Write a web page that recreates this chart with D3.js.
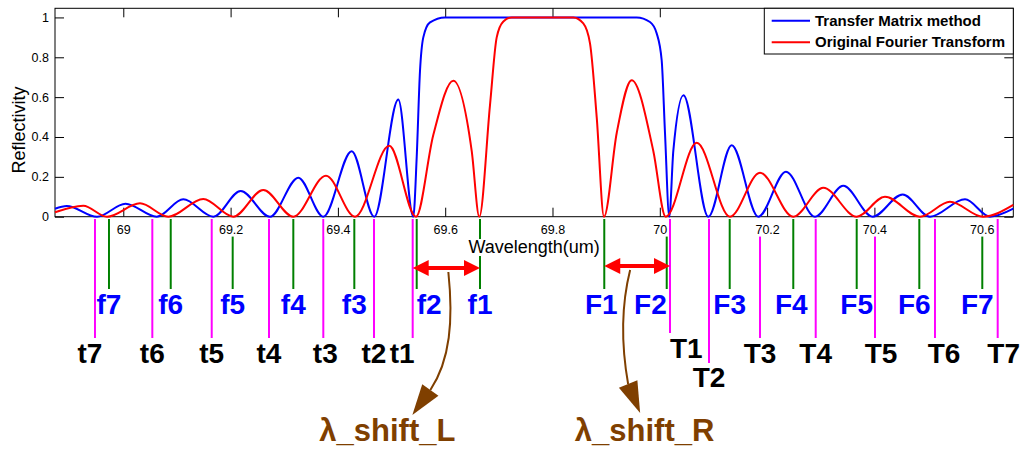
<!DOCTYPE html>
<html><head><meta charset="utf-8">
<script src="https://cdn.jsdelivr.net/npm/d3@7"></script>
<style>body{margin:0;background:#fff;} svg{display:block;font-family:"Liberation Sans",Arial,Helvetica,sans-serif;}</style>
</head><body><svg id="c" width="1023" height="450"></svg>
<script>
// ---- data ----
const seriesNames = ["Transfer Matrix method", "Original Fourier Transform"];
const blueWl = [68.8727,68.8945,68.9510,69.0041,69.0623,69.1118,69.1678,69.2188,69.2734,69.3262,69.3728,69.4257,69.4678,69.5126,69.5405,69.5469,69.5530,69.5592,69.5717,69.5996,69.9569,69.9817,69.9942,70.0035,70.0097,70.0177,70.0252,70.0441,70.0904,70.1340,70.1836,70.2352,70.2893,70.3420,70.3968,70.4527,70.5036,70.5689,70.6154,70.6589];
const blueR  = [0.040,0.054,0.000,0.065,0.000,0.087,0.000,0.129,0.000,0.196,0.000,0.329,0.000,0.588,0.000,0.300,0.730,0.900,0.975,1.000,1.000,0.977,0.920,0.785,0.420,0.000,0.330,0.610,0.000,0.359,0.000,0.226,0.000,0.155,0.000,0.112,0.000,0.087,0.000,0.040];
const redWl = [68.8727,68.9254,68.9696,69.0311,69.0839,69.1491,69.2050,69.2609,69.3169,69.3778,69.4319,69.4958,69.5456,69.5778,69.6151,69.6494,69.6636,69.6835,69.6960,69.7084,69.7240,69.8388,69.8574,69.8699,69.8824,69.8960,69.9197,69.9476,69.9879,70.0110,70.0688,70.1308,70.1868,70.2488,70.3047,70.3670,70.4197,70.4850,70.5409,70.6024,70.6589];
const redR  = [0.022,0.055,0.000,0.067,0.000,0.089,0.000,0.134,0.000,0.206,0.000,0.356,0.000,0.410,0.682,0.330,0.000,0.560,0.900,0.980,1.000,1.000,0.970,0.870,0.500,0.000,0.420,0.685,0.330,0.000,0.371,0.000,0.221,0.000,0.145,0.000,0.100,0.000,0.075,0.000,0.059];
const xTickValues = [69, 69.2, 69.4, 69.6, 69.8, 70, 70.2, 70.4, 70.6];
const yTickValues = [0, 0.2, 0.4, 0.6, 0.8, 1];
const xLabel = "Wavelength(um)";
const yLabel = "Reflectivity";
// annotation markers (wavelengths)
const fNames = ["f7","f6","f5","f4","f3","f2","f1"];
const fWl    = [68.9733,69.0884,69.2039,69.3169,69.4306,69.5469,69.6649];
const FNames = ["F1","F2","F3","F4","F5","F6","F7"];
const FWl    = [69.8965,70.0129,70.1303,70.2488,70.3670,70.4837,70.6011];
const tNames = ["t7","t6","t5","t4","t3","t2","t1"];
const tWl    = [68.9472,69.0541,69.1648,69.2716,69.3728,69.4673,69.5394];
const TNames = ["T1","T2","T3","T4","T5","T6","T7"];
const TWl    = [70.0190,70.0917,70.1868,70.2906,70.4011,70.5129,70.6298];
const shiftNames = ["\u03bb_shift_L", "\u03bb_shift_R"];

// ---- layout ----
const svg = d3.select("#c");
const M = {left: 55, right: 1013.3, top: 8.3, bottom: 216.7};
const x = d3.scaleLinear().domain(d3.extent(blueWl)).range([M.left, M.right]);
const y = d3.scaleLinear().domain([0, 1.0458]).range([M.bottom, M.top]);

svg.append("rect").attr("width",1023).attr("height",450).attr("fill","#fff");

// ---- annotation lines (drawn below tick labels) ----
const ann = svg.append("g");
const green = "#008000", magenta = "#ff00ff";
const markers = [];
fNames.forEach((n,i)=>markers.push({n, w:fWl[i], kind:"f"}));
FNames.forEach((n,i)=>markers.push({n, w:FWl[i], kind:"f"}));
tNames.forEach((n,i)=>markers.push({n, w:tWl[i], kind:"t"}));
TNames.forEach((n,i)=>markers.push({n, w:TWl[i], kind:"t"}));
const lineEnd = {T1: 333, T2: 363};
ann.selectAll("line.m").data(markers).join("line")
  .attr("x1", d=>x(d.w)).attr("x2", d=>x(d.w))
  .attr("y1", 219)
  .attr("y2", d=> lineEnd[d.n] || (d.kind==="f" ? 289 : 338))
  .attr("stroke", d=> d.kind==="f" ? green : magenta)
  .attr("stroke-width", 2);

// ---- axes ----
const gx = svg.append("g").attr("transform",`translate(0,${M.bottom})`)
  .call(d3.axisBottom(x).tickValues(xTickValues).tickFormat(d=>String(d)).tickSize(-9).tickPadding(8));
const gxt = svg.append("g").attr("transform",`translate(0,${M.top})`)
  .call(d3.axisTop(x).tickValues(xTickValues).tickFormat("").tickSize(-9));
const gy = svg.append("g").attr("transform",`translate(${M.left},0)`)
  .call(d3.axisLeft(y).tickValues(yTickValues).tickFormat(d=>String(d)).tickSize(-9).tickPadding(6));
const gyr = svg.append("g").attr("transform",`translate(${M.right},0)`)
  .call(d3.axisRight(y).tickValues(yTickValues).tickFormat("").tickSize(-9));
[gx,gxt,gy,gyr].forEach(g=>{
  g.select(".domain").remove();
  g.attr("font-family",null).attr("font-size",null);
  g.selectAll("text").attr("font-size",12.5).attr("fill","#000");
  g.selectAll("line").attr("stroke","#000");
});
gx.selectAll(".tick").each(function(){
  const t = d3.select(this).select("text");
  const b = t.node().getBBox();
  d3.select(this).insert("rect","text")
    .attr("x", b.x-1.5).attr("y", 1.5).attr("width", b.width+3).attr("height", b.y+b.height-1.5)
    .attr("fill","#fff");
});

// axis labels
const xl = svg.append("g");
const xlt = xl.append("text").attr("x",(M.left+M.right)/2).attr("y",253).attr("text-anchor","middle")
  .attr("font-size",18).text(xLabel);
const xb = xlt.node().getBBox();
xl.insert("rect","text").attr("x",xb.x-1).attr("y",xb.y+2).attr("width",xb.width+2).attr("height",xb.height-3).attr("fill","#fff");
svg.append("text").attr("transform","translate(25,130) rotate(-90)").attr("text-anchor","middle")
  .attr("font-size",18).text(yLabel);

// box
svg.append("rect").attr("x",M.left).attr("y",M.top).attr("width",M.right-M.left).attr("height",M.bottom-M.top)
  .attr("fill","none").attr("stroke","#000").attr("stroke-width",1);

// ---- curves ----
const line = d3.line().x(d=>x(d[0])).y(d=>y(d[1])).curve(d3.curveMonotoneX);
svg.append("path").datum(d3.zip(blueWl, blueR)).attr("d", line)
  .attr("fill","none").attr("stroke","#0000ff").attr("stroke-width",2);
svg.append("path").datum(d3.zip(redWl, redR)).attr("d", line)
  .attr("fill","none").attr("stroke","#ff0000").attr("stroke-width",2);

// ---- legend ----
const lg = svg.append("g");
lg.append("rect").attr("x",764.3).attr("y",M.top).attr("width",M.right-764.3).attr("height",45.7)
  .attr("fill","#fff").attr("stroke","#000");
[["#0000ff",20.7],["#ff0000",42.3]].forEach(([c,yy],i)=>{
  lg.append("line").attr("x1",771.7).attr("x2",810).attr("y1",yy).attr("y2",yy).attr("stroke",c).attr("stroke-width",2);
  lg.append("text").attr("x",815).attr("y",yy+5).attr("font-size",15).attr("font-weight","bold").text(seriesNames[i]);
});

// ---- marker labels ----
const anchorOf = {f2:"start", F2:"end", t1:"end", T1:"start"};
const dxOf = {F1:-3, F6:-5, F7:-5, t7:-5, t1:2, T5:6, T6:9, T7:6, t3:2, F4:-2};
const baseOf = {T1:358, T2:387};
svg.append("g").selectAll("text").data(markers).join("text")
  .attr("x", d=>x(d.w) + (dxOf[d.n]||0))
  .attr("y", d=> baseOf[d.n] || (d.kind==="f" ? 314 : 363))
  .attr("text-anchor", d=>anchorOf[d.n] || "middle")
  .attr("font-size",28).attr("font-weight","bold")
  .attr("fill", d=> d.kind==="f" ? "#0000ff" : "#000")
  .text(d=>d.n);

// ---- shift arrows ----
const red = "#ff0000", brown = "#7f3f00";
function dblArrow(x1, x2, yy){
  const g = svg.append("g");
  g.append("line").attr("x1",x1+12).attr("x2",x2-12).attr("y1",yy).attr("y2",yy).attr("stroke",red).attr("stroke-width",4);
  g.append("path").attr("d",`M${x1},${yy} L${x1+16},${yy-8} L${x1+16},${yy+8} Z`).attr("fill",red);
  g.append("path").attr("d",`M${x2},${yy} L${x2-16},${yy-8} L${x2-16},${yy+8} Z`).attr("fill",red);
}
const aL1 = x(tWl[6]), aL2 = x(fWl[6]);
const aR1 = x(FWl[0]), aR2 = x(TWl[0]);
dblArrow(aL1, aL2, 268);
dblArrow(aR1, aR2, 266);

function curvedArrow(x0, y0, c1, c2, base, tip){
  const g = svg.append("g");
  g.append("path").attr("d",`M${x0},${y0} C${c1[0]},${c1[1]} ${c2[0]},${c2[1]} ${base[0]},${base[1]}`)
    .attr("fill","none").attr("stroke",brown).attr("stroke-width",2);
  const dx = tip[0]-base[0], dy = tip[1]-base[1], L = Math.hypot(dx,dy);
  const px = -dy/L*10, py = dx/L*10;
  g.append("path").attr("d",`M${tip[0]},${tip[1]} L${base[0]+px},${base[1]+py} L${base[0]-px},${base[1]-py} Z`).attr("fill",brown);
}
const mL = (aL1+aL2)/2, mR = (aR1+aR2)/2;
curvedArrow(mL+2, 272, [mL+7,320], [mL+4,360], [mL-16,390], [mL-34,415]);
curvedArrow(mR-7, 270, [mR-17,310], [mR-15,350], [mR-9,384], [mR+3,413]);

svg.append("g").selectAll("text").data(shiftNames).join("text")
  .attr("x",(d,i)=> i===0 ? mL-59 : mR+7.5)
  .attr("y",441).attr("text-anchor","middle")
  .attr("font-size",31).attr("font-weight","bold").attr("fill",brown)
  .text(d=>d);
</script></body></html>
